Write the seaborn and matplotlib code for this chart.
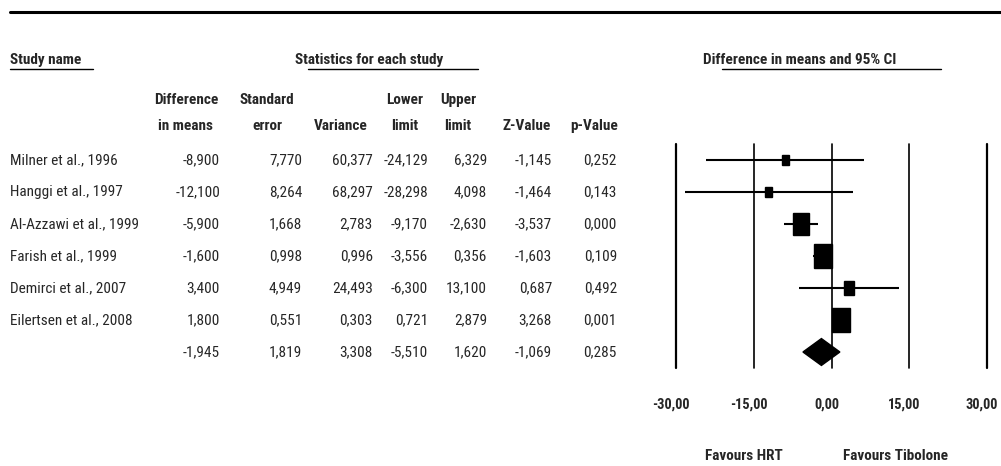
import os
import numpy as np
import matplotlib
matplotlib.use("Agg")
import matplotlib.pyplot as plt
import seaborn as sns
from matplotlib import transforms, font_manager
from matplotlib.font_manager import FontProperties
from matplotlib.patches import Rectangle, Polygon
from matplotlib.lines import Line2D

# ---- data -------------------------------------------------------------
studies = ["Milner et al., 1996", "Hanggi et al., 1997", "Al-Azzawi et al., 1999",
           "Farish et al., 1999", "Demirci et al., 2007", "Eilertsen et al., 2008"]
diff = [-8.900, -12.100, -5.900, -1.600, 3.400, 1.800]
std_err = [7.770, 8.264, 1.668, 0.998, 4.949, 0.551]
variance = [60.377, 68.297, 2.783, 0.996, 24.493, 0.303]
lower = [-24.129, -28.298, -9.170, -3.556, -6.300, 0.721]
upper = [6.329, 4.098, -2.630, 0.356, 13.100, 2.879]
z_value = [-1.145, -1.464, -3.537, -1.603, 0.687, 3.268]
p_value = [0.252, 0.143, 0.000, 0.109, 0.492, 0.001]

pooled_diff = -1.945
pooled_se = 1.819
pooled_var = 3.308
pooled_lower = -5.510
pooled_upper = 1.620
pooled_z = -1.069
pooled_p = 0.285

axis_ticks = [-30, -15, 0, 15, 30]
favours_left = "Favours HRT"
favours_right = "Favours Tibolone"

# ---- style ------------------------------------------------------------
sns.set_theme(style="white")
plt.rcParams["font.family"] = ["Liberation Sans", "DejaVu Sans"]

# look for a narrow / condensed sans face (regular + bold)
files = {os.path.basename(f.fname).lower(): f.fname
         for f in font_manager.fontManager.ttflist}
pairs = [("liberationsansnarrow-regular.ttf", "liberationsansnarrow-bold.ttf"),
         ("arialn.ttf", "arialnb.ttf"),
         ("robotocondensed-regular.ttf", "robotocondensed-bold.ttf"),
         ("dejavusanscondensed.ttf", "dejavusanscondensed-bold.ttf")]
FP_REG = FontProperties(family=["Liberation Sans", "DejaVu Sans"])
FP_BOLD = FontProperties(family=["Liberation Sans", "DejaVu Sans"], weight="bold")
narrow = False
for reg, bold in pairs:
    if reg in files and bold in files:
        FP_REG = FontProperties(fname=files[reg])
        FP_BOLD = FontProperties(fname=files[bold])
        narrow = True
        break
FS = 11.0 if narrow else 9.6
FP_REG.set_size(FS)
FP_BOLD.set_size(FS)
FP_TICK = FP_BOLD.copy()
FP_TICK.set_size(FS - 0.6)

W, H = 1001, 466
fig = plt.figure(figsize=(W / 100, H / 100), dpi=100)
fig.patch.set_facecolor("white")


def fx(px):
    return px / W


def fy(py):
    return 1 - py / H


def fmt(v, nd=3):
    return f"{v:.{nd}f}".replace(".", ",")


# forest panel
ax_left, ax_right, ax_top, ax_bottom = 676, 987, 144, 368
ax = fig.add_axes([fx(ax_left), fy(ax_bottom), (ax_right - ax_left) / W,
                   (ax_bottom - ax_top) / H])
ax.set_xlim(axis_ticks[0], axis_ticks[-1])
n = len(studies)
ax.set_ylim(n + 0.5, -0.5)
sns.despine(ax=ax, left=True, bottom=True)
ax.set_facecolor("none")

for t in axis_ticks:
    outer = t in (axis_ticks[0], axis_ticks[-1])
    ax.axvline(t, color="black", lw=1.6 if outer else 1.2, clip_on=False, zorder=1)

# random-effects weights (DerSimonian-Laird) set the box sizes
v = np.array(variance)
y = np.array(diff)
w = 1 / v
ybar = np.sum(w * y) / np.sum(w)
Q = np.sum(w * (y - ybar) ** 2)
C = np.sum(w) - np.sum(w ** 2) / np.sum(w)
tau2 = max(0.0, (Q - (n - 1)) / C)
w_re = 1 / (v + tau2)
rel = np.sqrt(w_re / w_re.max())

px_per_unit = (ax_right - ax_left) / (axis_ticks[-1] - axis_ticks[0])
px_per_row = (ax_bottom - ax_top) / (n + 1)
box_h_rows = 0.78
box_aspect = 0.72  # width / height in pixels

for i in range(n):
    ax.plot([lower[i], upper[i]], [i, i], color="black", lw=1.5,
            solid_capstyle="butt", zorder=2, clip_on=False)
    h = box_h_rows * rel[i]
    wd = h * px_per_row * box_aspect / px_per_unit
    ax.add_patch(Rectangle((diff[i] - wd / 2, i - h / 2), wd, h,
                           color="black", zorder=3, clip_on=False))

# pooled diamond
dh = 0.42
ax.add_patch(Polygon([[pooled_lower, n], [pooled_diff, n - dh],
                      [pooled_upper, n], [pooled_diff, n + dh]],
                     closed=True, color="black", zorder=3, clip_on=False))

ax.set_yticks([])
ax.set_xticks(axis_ticks)
ax.set_xticklabels([fmt(t, 2) for t in axis_ticks], fontproperties=FP_TICK)
ax.tick_params(axis="x", length=0, pad=21)
shift = transforms.ScaledTranslation(-5 / 100, 0, fig.dpi_scale_trans)
for lab in ax.get_xticklabels():
    lab.set_transform(lab.get_transform() + shift)
ax.grid(False)

# ---- table ------------------------------------------------------------
trans = transforms.blended_transform_factory(fig.transFigure, ax.transData)

col_right = [220, 302, 373, 428, 487, 552, 617]
columns = [diff, std_err, variance, lower, upper, z_value, p_value]
pooled = [pooled_diff, pooled_se, pooled_var, pooled_lower, pooled_upper,
          pooled_z, pooled_p]

for i, name in enumerate(studies):
    ax.text(fx(10), i, name, transform=trans, ha="left", va="center",
            fontproperties=FP_REG, clip_on=False)
    for xr, col in zip(col_right, columns):
        ax.text(fx(xr), i, fmt(col[i]), transform=trans, ha="right",
                va="center", fontproperties=FP_REG, clip_on=False)
for xr, val in zip(col_right, pooled):
    ax.text(fx(xr), n, fmt(val), transform=trans, ha="right", va="center",
            fontproperties=FP_REG, clip_on=False)

# column headers
headers = [(186, "Difference", "in means"), (267, "Standard", "error"),
           (341, "", "Variance"), (405, "Lower", "limit"), (458, "Upper", "limit"),
           (527, "", "Z-Value"), (594, "", "p-Value")]
for xc, l1, l2 in headers:
    if l1:
        fig.text(fx(xc), fy(100), l1, ha="center", va="center",
                 fontproperties=FP_BOLD)
    fig.text(fx(xc), fy(126), l2, ha="center", va="center",
             fontproperties=FP_BOLD)

# group titles with underlines
fig.text(fx(10), fy(60), "Study name", ha="left", va="center",
         fontproperties=FP_BOLD)
fig.text(fx(295), fy(60), "Statistics for each study", ha="left", va="center",
         fontproperties=FP_BOLD)
fig.text(fx(703), fy(60), "Difference in means and 95% CI", ha="left",
         va="center", fontproperties=FP_BOLD)
for x0, x1 in [(10, 93), (308, 478), (722, 941)]:
    fig.add_artist(Line2D([fx(x0), fx(x1)], [fy(69), fy(69)], color="black", lw=1.0))

# top rule
fig.add_artist(Line2D([fx(10), 1.0], [fy(12), fy(12)], color="black", lw=2.2))

# direction labels
fig.text(fx(744), fy(456), favours_left, ha="center", va="center",
         fontproperties=FP_BOLD)
fig.text(fx(896), fy(456), favours_right, ha="center", va="center",
         fontproperties=FP_BOLD)

fig.savefig("out.png", dpi=100, facecolor="white")
